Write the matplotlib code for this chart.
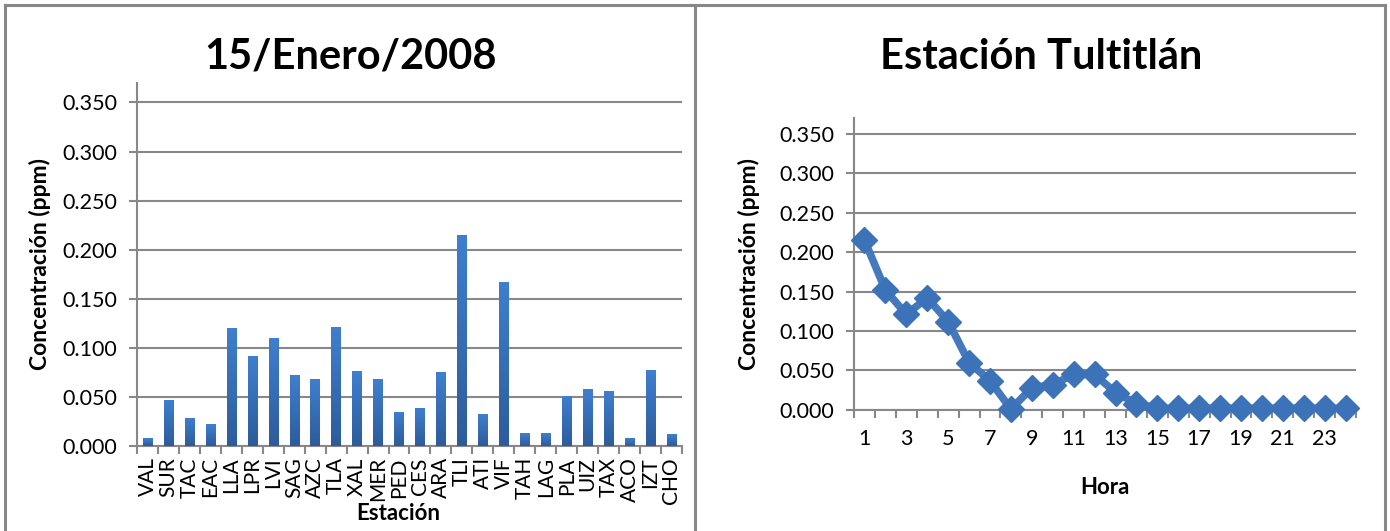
import matplotlib
matplotlib.use("Agg")
import matplotlib.pyplot as plt
from matplotlib.lines import Line2D
from matplotlib.colors import LinearSegmentedColormap
import numpy as np

plt.rcParams['font.family'] = ['Lato', 'DejaVu Sans']

# data
stations = ["VAL", "SUR", "TAC", "EAC", "LLA", "LPR", "LVI", "SAG", "AZC", "TLA",
            "XAL", "MER", "PED", "CES", "ARA", "TLI", "ATI", "VIF", "TAH", "LAG",
            "PLA", "UIZ", "TAX", "ACO", "IZT", "CHO"]
station_conc = [0.008, 0.047, 0.029, 0.022, 0.120, 0.092, 0.110, 0.072, 0.068, 0.121,
                0.076, 0.068, 0.035, 0.039, 0.075, 0.215, 0.033, 0.167, 0.013, 0.013,
                0.051, 0.058, 0.056, 0.008, 0.077, 0.012]

hours = list(range(1, 25))
tli_conc = [0.215, 0.152, 0.121, 0.142, 0.112, 0.060, 0.037, 0.001, 0.028, 0.032,
            0.045, 0.045, 0.022, 0.008, 0.002, 0.002, 0.002, 0.002, 0.002, 0.002,
            0.002, 0.002, 0.002, 0.002]

yticks = np.arange(0, 0.351, 0.05)
grey = "#888888"
bar_cmap = LinearSegmentedColormap.from_list("bar", ["#2D5C9A", "#3F7FCF"])

fig = plt.figure(figsize=(13.9, 5.31), dpi=100)

# panel frames
for xs, ys in [([0.0036, 0.9964], [0.9906, 0.9906]),
               ([0.0036, 0.0036], [0.0, 0.9906]),
               ([0.5, 0.5], [0.0, 0.9906]),
               ([0.9964, 0.9964], [0.0, 0.9906])]:
    fig.add_artist(Line2D(xs, ys, color=grey, lw=2.2, transform=fig.transFigure))


def style_axes(ax):
    for side in ["top", "right"]:
        ax.spines[side].set_visible(False)
    for side in ["left", "bottom"]:
        ax.spines[side].set_color(grey)
        ax.spines[side].set_linewidth(1.5)
    ax.set_ylim(0, 0.37)
    ax.set_yticks(yticks)
    ax.set_yticklabels([f"{v:.3f}" for v in yticks])
    ax.yaxis.grid(True, color=grey, lw=1.5)
    ax.set_axisbelow(True)
    ax.tick_params(axis="y", length=6, color=grey, width=1.5, labelsize=15.5, pad=8)


# left: bars by station
ax1 = fig.add_axes([0.0986, 0.160, 0.392, 0.684])
x = np.arange(len(stations))
bars = ax1.bar(x, station_conc, width=0.45, color="none", zorder=3)
grad = np.linspace(0, 1, 100).reshape(-1, 1)
for b in bars:
    x0, y0 = b.get_x(), b.get_y()
    im = ax1.imshow(grad, cmap=bar_cmap, origin="lower", aspect="auto",
                    extent=[x0, x0 + b.get_width(), 0, b.get_height()], zorder=3)
    im.set_clip_path(b)
ax1.set_xlim(-0.5, len(stations) - 0.5)
style_axes(ax1)
ax1.set_xticks(x)
ax1.set_xticklabels(stations, rotation=90, fontsize=15)
ax1.set_xticks(np.arange(-0.5, len(stations)), minor=True)
ax1.tick_params(axis="x", which="major", length=0, pad=8)
ax1.tick_params(axis="x", which="minor", length=6, color=grey, width=1.5)
ax1.set_xlabel("Estación", fontsize=16, fontweight="bold")
ax1.xaxis.set_label_coords(0.48, -0.158)
ax1.set_ylabel("Concentración (ppm)", fontsize=16.5, fontweight="bold", labelpad=8)
fig.text(0.252, 0.893, "15/Enero/2008", ha="center", va="center",
         fontsize=30, fontweight="bold")

# right: hourly line for Tultitlan
ax2 = fig.add_axes([0.6144, 0.228, 0.3612, 0.550])
ax2.plot(hours, tli_conc, color="#4479BD", lw=5.5, marker="D", markersize=13,
         markerfacecolor="#3B72B8", markeredgecolor="#3B72B8", zorder=3, clip_on=False)
ax2.set_xlim(0.5, 24.5)
style_axes(ax2)
ax2.set_xticks(hours)
ax2.set_xticklabels([str(h) if h % 2 == 1 else "" for h in hours], fontsize=15.5)
ax2.set_xticks(np.arange(0.5, 25), minor=True)
ax2.tick_params(axis="x", which="major", length=0, pad=14)
ax2.tick_params(axis="x", which="minor", length=6, color=grey, width=1.5)
ax2.set_xlabel("Hora", fontsize=16, fontweight="bold")
ax2.xaxis.set_label_coords(0.5, -0.23)
ax2.set_ylabel("Concentración (ppm)", fontsize=16.5, fontweight="bold", labelpad=14)
fig.text(0.749, 0.893, "Estación Tultitlán", ha="center", va="center",
         fontsize=30, fontweight="bold")

fig.savefig("out.png", dpi=100)
